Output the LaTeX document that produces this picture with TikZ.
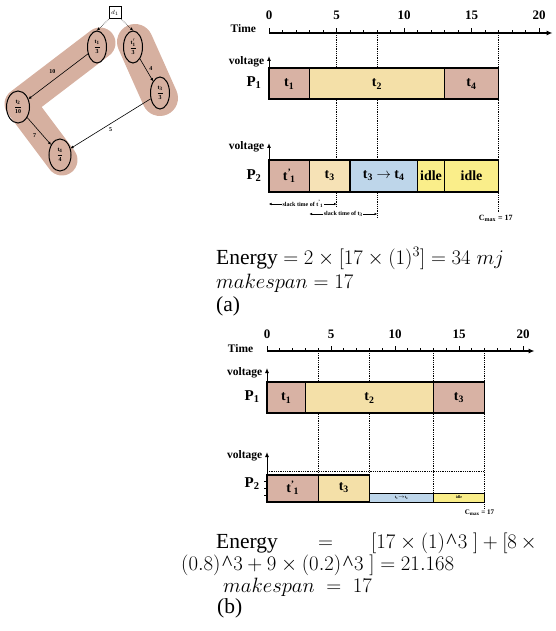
\documentclass[tikz,border=0pt]{standalone}
\usepackage{fontspec}
\setmainfont{Liberation Serif}
\usetikzlibrary{arrows.meta,shapes.geometric,positioning}

\definecolor{taskred}{RGB}{216,178,164}
\definecolor{tasktan}{RGB}{244,224,168}
\definecolor{tasklight}{RGB}{246,226,182}
\definecolor{taskblue}{RGB}{190,214,234}
\definecolor{idleyellow}{RGB}{250,238,138}
\definecolor{groupred}{RGB}{214,176,160}

\newcommand{\fsz}[1]{\fontsize{#1}{#1}\selectfont}
\newcommand{\tpr}[1]{t\textsuperscript{\textquoteright}\kern-.08em\textsubscript{#1}}
\newcommand{\caret}{\mbox{\kern1.5pt\textasciicircum\kern1pt}}

\tikzset{
  taskbox/.style={draw=black, line width=1.3pt},
  timeaxis/.style={line width=1.1pt, -{Latex[length=6pt,width=5pt]}},
  voltaxis/.style={line width=1pt, -{Latex[length=5pt,width=4pt]}},
  guide/.style={densely dotted, line width=0.8pt},
  tasklbl/.style={font=\bfseries\fsz{14}},
  axlbl/.style={font=\bfseries\fsz{11.5}},
  axnum/.style={font=\bfseries\fsz{13}},
  plbl/.style={font=\bfseries\fsz{15}, anchor=east},
  slacklbl/.style={fill=white, inner sep=0.5pt, font=\bfseries\fsz{6}},
  tnode/.style={ellipse, draw, line width=1pt, inner sep=0pt, minimum width=19pt, minimum height=32pt, font=\bfseries\fsz{6}},
  edge/.style={-{Latex[length=3pt,width=3pt]}, line width=0.6pt},
  eqn/.style={anchor=base west, font=\fsz{21.5}, inner sep=0pt},
}

\begin{document}
\begin{tikzpicture}[x=1pt,y=-1pt]
\useasboundingbox (0,0) rectangle (556,631);

% task groups
\draw[groupred, line width=31pt, line cap=round, line join=round] (100,43) -- (20,104) -- (62,160);
\draw[groupred, line width=36pt, line cap=round] (135,42) -- (160,98);

% task graph
\node[draw, line width=1pt, minimum size=12pt, inner sep=0pt, fill=white, font=\fsz{6}] (d1) at (115,13) {$d_1$};
\node[tnode] (t1) at (97,47) {$\displaystyle\frac{\mathbf{t_1}}{\mathbf{3}}$};
\node[tnode] (t1p) at (133,47) {$\displaystyle\frac{\mathbf{t'_1}}{\mathbf{3}}$};
\node[tnode] (t3) at (160,93) {$\displaystyle\frac{\mathbf{t_3}}{\mathbf{3}}$};
\node[tnode, minimum width=23pt] (t2) at (18,107) {$\displaystyle\frac{\mathbf{t_2}}{\mathbf{10}}$};
\node[tnode, minimum width=22pt] (t4) at (60,155) {$\displaystyle\frac{\mathbf{t_4}}{\mathbf{4}}$};
\draw[edge, densely dotted] (d1.south west) -- (t1.north);
\draw[edge, densely dotted] (d1.south east) -- (t1p.north);
\draw[edge] (t1) -- node[above left=-1pt, font=\bfseries\fsz{6}] (w10) {10} (t2);
\draw[edge] (t1p) -- node[right, pos=.45, font=\bfseries\fsz{6}] (w4) {4} (t3);
\draw[edge] (t2) -- node[below left=-1pt, font=\bfseries\fsz{6}] (w7) {7} (t4);
\draw[edge] (t3) -- node[below, font=\bfseries\fsz{6}] (w5) {5} (t4);

% (a) schedule
\begin{scope}[shift={(269,0)}, x=13.5pt]
  \draw[guide] (5,35) -- (5,207);
  \draw[guide] (8,35) -- (8,218);
  \draw[guide] (17,35) -- (17,212);
  % time axis
  \draw[timeaxis] (0,33) -- (21,33);
  \foreach \i in {0,...,20} \draw[line width=0.8pt] (\i,33) -- (\i,30);
  \foreach \i in {0,5,...,20} {
    \draw[line width=0.9pt] (\i,33) -- (\i,28);
    \node[axnum] (na\i) at (\i,15) {\i};
  }
  \node[axlbl, anchor=east] (timeA) at (-0.7,29) {Time};
  % P1
  \draw[voltaxis] (0,68) -- (0,56);
  \node[axlbl, anchor=east] (voltA1) at (-0.1,62) {voltage};
  \draw[taskbox, fill=taskred] (0,68) rectangle (3,99);
  \draw[taskbox, fill=tasktan] (3,68) rectangle (13,99);
  \draw[taskbox, fill=taskred] (13,68) rectangle (17,99);
  \node[tasklbl] (a11) at (1.5,84) {t\textsubscript{1}};
  \node[tasklbl] (a12) at (8,84) {t\textsubscript{2}};
  \node[tasklbl] (a14) at (15,84) {t\textsubscript{4}};
  \node[plbl] (pA1) at (-0.3,83) {P\textsubscript{1}};
  % P2
  \draw[voltaxis] (0,160) -- (0,143);
  \node[axlbl, anchor=east] (voltA2) at (-0.1,147) {voltage};
  \draw[taskbox, fill=taskred] (0,160) rectangle (3,192);
  \draw[taskbox, fill=tasklight] (3,160) rectangle (6,192);
  \draw[taskbox, fill=taskblue] (6,160) rectangle (11,192);
  \draw[taskbox, fill=idleyellow] (11,160) rectangle (13,192);
  \draw[taskbox, fill=idleyellow] (13,160) rectangle (17,192);
  \node[tasklbl] (a21) at (1.5,176) {\tpr{1}};
  \node[tasklbl] (a23) at (4.5,176) {t\textsubscript{3}};
  \node[tasklbl] (a234) at (8.5,176) {t\textsubscript{3} $\rightarrow$ t\textsubscript{4}};
  \node[tasklbl] (a2i1) at (12,176) {idle};
  \node[tasklbl] (a2i2) at (15,176) {idle};
  \node[plbl] (pA2) at (-0.3,176) {P\textsubscript{2}};
  % slack times
  \draw[{Latex[length=2.5pt,width=2.5pt]}-{Latex[length=2.5pt,width=2.5pt]}, line width=0.5pt] (0,204) -- node[slacklbl] (slack1) {slack time of \tpr{1}} (5,204);
  \draw[{Latex[length=2.5pt,width=2.5pt]}-{Latex[length=2.5pt,width=2.5pt]}, line width=0.5pt] (3,214) -- node[slacklbl] (slack3) {slack time of t\textsubscript{3}} (8,214);
  \node[font=\bfseries\fsz{8}, fill=white, inner sep=0.5pt] (cmaxA) at (16.8,218) {C\textsubscript{max} = 17};
\end{scope}

% (a) result
\node[eqn] (enA) at (216,264) {Energy $= 2\times[17\times(1)^3] = 34\;mj$};
\node[eqn] (msA) at (216,288) {$makespan = 17$};
\node[eqn] (capA) at (216,311) {(a)};

% (b) schedule
\begin{scope}[shift={(267,0)}, x=12.8pt]
  \foreach \g in {4,8,13} \draw[guide] (\g,353) -- (\g,495);
  \draw[guide] (17,353) -- (17,508);
  % time axis
  \draw[timeaxis] (0,351) -- (20.9,351);
  \foreach \i in {0,...,20} \draw[line width=0.8pt] (\i,351) -- (\i,348);
  \foreach \i in {0,5,...,20} {
    \draw[line width=0.9pt] (\i,351) -- (\i,346);
    \node[axnum] (nb\i) at (\i,334) {\i};
  }
  \node[axlbl, anchor=east] (timeB) at (-0.8,349) {Time};
  % P1
  \draw[voltaxis] (0,382) -- (0,368);
  \node[axlbl, anchor=east] (voltB1) at (-0.1,373) {voltage};
  \draw[taskbox, fill=taskred] (0,382) rectangle (3,413);
  \draw[taskbox, fill=tasktan] (3,382) rectangle (13,413);
  \draw[taskbox, fill=taskred] (13,382) rectangle (17,413);
  \node[tasklbl] (b11) at (1.5,398) {t\textsubscript{1}};
  \node[tasklbl] (b12) at (8,398) {t\textsubscript{2}};
  \node[tasklbl] (b13) at (15,398) {t\textsubscript{3}};
  \node[plbl] (pB1) at (-0.3,397) {P\textsubscript{1}};
  % P2
  \draw[guide] (0,471) -- (17,471);
  \draw[taskbox, fill=taskred] (0,475) rectangle (4,502);
  \draw[taskbox, fill=tasktan] (4,475) rectangle (8,502);
  \draw[line width=1pt, fill=taskblue] (8,493) rectangle (13,502);
  \draw[line width=1pt, fill=idleyellow] (13,493) rectangle (17,502);
  \draw[voltaxis] (0,502) -- (0,452);
  \foreach \v in {481,488,495} \draw[line width=0.6pt] (0,\v) -- (-0.25,\v);
  \node[axlbl, anchor=east] (voltB2) at (-0.1,456) {voltage};
  \node[tasklbl] (b21) at (2,488) {\tpr{1}};
  \node[tasklbl] (b23) at (6,488) {t\textsubscript{3}};
  \node[font=\bfseries\fsz{4}, inner sep=0pt] (b234) at (10.5,497.5) {t\textsubscript{3}$\rightarrow$t\textsubscript{4}};
  \node[font=\bfseries\fsz{4}, inner sep=0pt] (b2i) at (15,497.5) {idle};
  \node[plbl] (pB2) at (-0.3,484) {P\textsubscript{2}};
  \node[font=\bfseries\fsz{7}, fill=white, inner sep=0.5pt] (cmaxB) at (16.6,513) {C\textsubscript{max} = 17};
\end{scope}

% (b) result
\node[eqn] (enB1) at (216,548) {Energy};
\node[eqn, font=\fsz{22}] (enB2) at (318,548) {$=$};
\node[eqn, font=\fsz{22}] (enB3) at (371,548) {$[17\times(1)\caret3\;]+[8\,\times$};
\node[eqn, font=\fsz{22}] (enB4) at (181,570) {$(0.8)\caret3+9\times(0.2)\caret3\;]=21.168$};
\node[eqn, font=\fsz{22}] (msB) at (223,592) {$makespan\;=\;17$};
\node[eqn] (capB) at (217,613) {(b)};
\end{tikzpicture}
\end{document}
